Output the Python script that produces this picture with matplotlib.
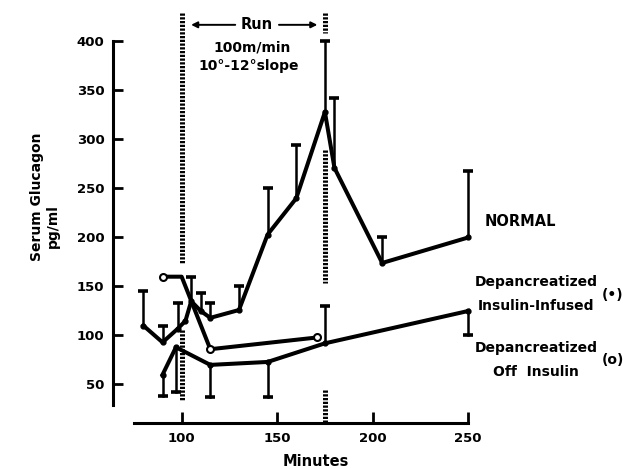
import matplotlib
matplotlib.use("Agg")
import matplotlib.pyplot as plt

plt.rcParams['font.family'] = ['DejaVu Sans']
plt.rcParams['font.weight'] = 'bold'

# NORMAL (filled dots), error bars upward
normal_x = [80, 90, 98, 102, 105, 110, 115, 130, 145, 160, 175, 180, 205, 250]
normal_y = [110, 93, 107, 115, 135, 125, 118, 126, 203, 240, 328, 271, 174, 200]
normal_err_x = [80, 90, 98, 105, 110, 115, 130, 145, 160, 175, 180, 205, 250]
normal_err_top = [145, 110, 133, 160, 143, 133, 150, 250, 294, 401, 342, 201, 268]

# Depancreatized, insulin-infused (filled dots)
infused_x = [90, 97, 115, 145, 175, 250]
infused_y = [60, 88, 70, 73, 92, 125]
infused_err_end = [38, 42, 37, 37, 130, 101]

# Depancreatized, off insulin (open circles)
off_x = [90, 100, 115, 171]
off_y = [160, 160, 86, 98]

# run period markers
run_start = 100
run_end = 175

fig = plt.figure(figsize=(6.23, 4.69), dpi=100)
ax = fig.add_axes([0.1812, 0.0987, 0.5764, 0.8797])
ax.set_xlim(64, 252)
ax.set_ylim(11, 432)

LW = 2.9
ELW = 1.8
CAPW = 2.6  # half width of a cap, in minutes

# dotted markers of the run
dot = dict(color='black', lw=3.6, linestyle=(0, (0.45, 0.3)), clip_on=False, zorder=1)
ax.plot([run_start, run_start], [429, 174], **dot)
ax.plot([run_start, run_start], [106, 34], **dot)
ax.plot([run_end, run_end], [429, 409], **dot)
ax.plot([run_end, run_end], [289, 154], **dot)
ax.plot([run_end, run_end], [44, 11], **dot)

def err_bar(x, y0, y1):
    ax.plot([x, x], [y0, y1], color='black', lw=ELW, zorder=2, clip_on=False)
    ax.plot([x - CAPW, x + CAPW], [y1, y1], color='black', lw=ELW + 0.8, zorder=2,
            solid_capstyle='butt', clip_on=False)

normal_lookup = dict(zip(normal_x, normal_y))
for x, t in zip(normal_err_x, normal_err_top):
    err_bar(x, normal_lookup[x], t)
for x, y, e in zip(infused_x, infused_y, infused_err_end):
    err_bar(x, y, e)

# series lines
ax.plot(normal_x, normal_y, color='black', lw=LW, marker='o', ms=3.5,
        solid_joinstyle='round', zorder=3, clip_on=False)
ax.plot(infused_x, infused_y, color='black', lw=LW, marker='o', ms=3.5,
        solid_joinstyle='round', zorder=3, clip_on=False)
ax.plot(off_x, off_y, color='black', lw=LW, zorder=3, solid_joinstyle='round')
ax.plot([off_x[0], off_x[2], off_x[3]], [off_y[0], off_y[2], off_y[3]], linestyle='none',
        marker='o', ms=5, mfc='white', mec='black', mew=1.5, zorder=4)

# axes styling
for s in ['top', 'right']:
    ax.spines[s].set_visible(False)
ax.spines['left'].set_bounds(29, 400)
ax.spines['bottom'].set_bounds(75, 250)
ax.spines['left'].set_linewidth(2.2)
ax.spines['bottom'].set_linewidth(2.2)
ax.set_yticks([50, 100, 150, 200, 250, 300, 350, 400])
ax.set_xticks([100, 150, 200, 250])
ax.tick_params(axis='y', direction='in', length=7, width=2.0, labelsize=9.5, pad=6)
ax.tick_params(axis='x', direction='in', length=8, width=2.0, labelsize=9.5, pad=7)
for lab in ax.get_xticklabels() + ax.get_yticklabels():
    lab.set_fontweight('bold')

# axis titles
fig.text(37.5 / 623, 1 - 197 / 469, 'Serum Glucagon', rotation=90, ha='center', va='center',
         fontsize=10, fontweight='bold')
fig.text(52.5 / 623, 1 - 226 / 469, 'pg/ml', rotation=90, ha='center', va='center',
         fontsize=10, fontweight='bold')
fig.text(316 / 623, 1 - 461 / 469, 'Minutes', ha='center', va='center',
         fontsize=10.5, fontweight='bold')

# run annotation
arrow = dict(arrowstyle='-|>', color='black', lw=1.4, mutation_scale=9)
ax.annotate('', xy=(103.5, 417), xytext=(129.5, 417), arrowprops=arrow, annotation_clip=False)
ax.annotate('', xy=(172.5, 417), xytext=(149.5, 417), arrowprops=arrow, annotation_clip=False)
ax.text(139.5, 417, 'Run', ha='center', va='center', fontsize=10.5, fontweight='bold')
ax.text(137, 394, '100m/min', ha='center', va='center', fontsize=10, fontweight='bold')
ax.text(135, 375, '10°-12°slope', ha='center', va='center', fontsize=10, fontweight='bold')

# series labels
fig.text(485 / 623, 1 - 222 / 469, 'NORMAL', ha='left', va='center', fontsize=10.5, fontweight='bold')
fig.text(536 / 623, 1 - 282 / 469, 'Depancreatized', ha='center', va='center', fontsize=10, fontweight='bold')
fig.text(536 / 623, 1 - 306 / 469, 'Insulin-Infused', ha='center', va='center', fontsize=10, fontweight='bold')
fig.text(613 / 623, 1 - 295 / 469, '(•)', ha='center', va='center', fontsize=10, fontweight='bold')
fig.text(536 / 623, 1 - 348 / 469, 'Depancreatized', ha='center', va='center', fontsize=10, fontweight='bold')
fig.text(536 / 623, 1 - 372 / 469, 'Off  Insulin', ha='center', va='center', fontsize=10, fontweight='bold')
fig.text(613 / 623, 1 - 360 / 469, '(o)', ha='center', va='center', fontsize=10, fontweight='bold')

fig.savefig('out.png', dpi=100)
